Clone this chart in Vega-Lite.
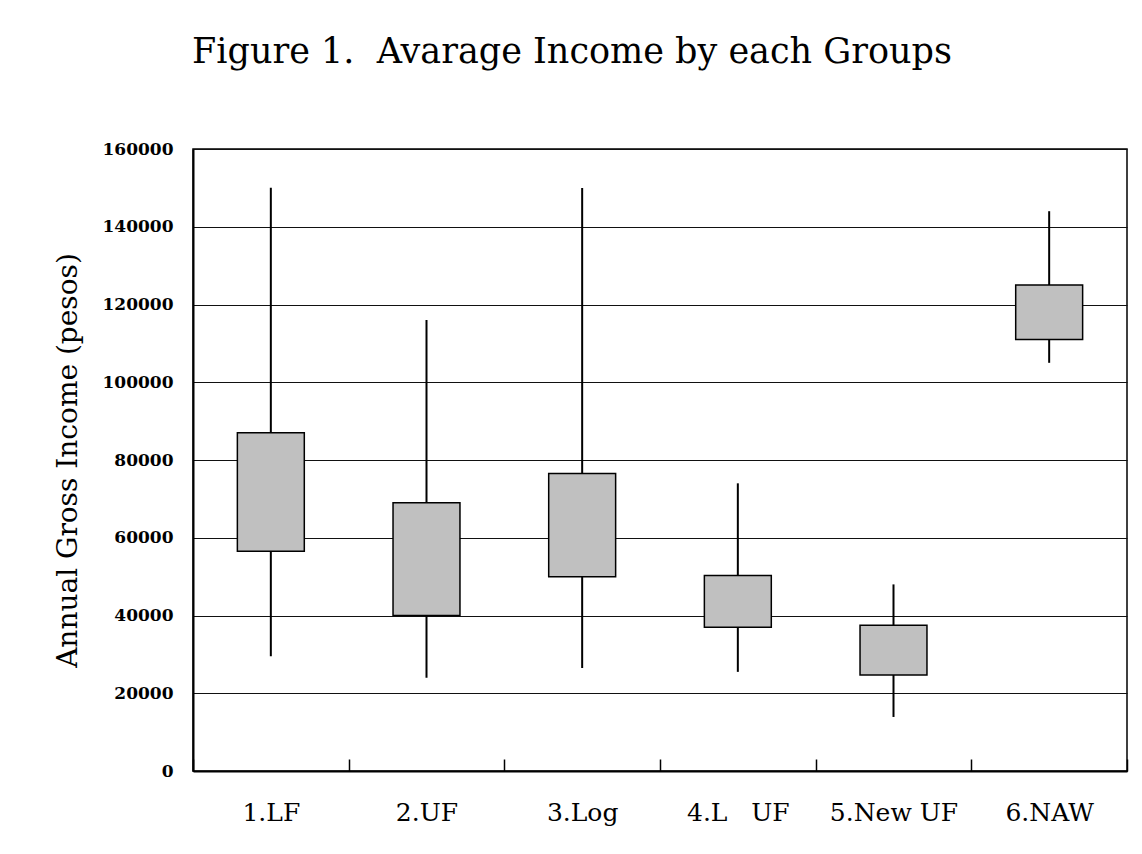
{
  "$schema": "https://vega.github.io/schema/vega-lite/v6.json",
  "width": 934,
  "height": 622,
  "autosize": {"type": "none"},
  "padding": {"left": 193, "top": 149, "right": 15, "bottom": 83},
  "background": "white",
  "title": {
    "text": "Figure 1.\u00a0\u00a0Avarage Income by each Groups",
    "font": "DejaVu Serif",
    "fontSize": 35,
    "fontWeight": "normal",
    "color": "black",
    "anchor": "middle",
    "frame": "group",
    "dx": -88,
    "offset": 42,
    "baseline": "alphabetic"
  },
  "data": {
    "values": [
      {"group": "1.LF", "low": 29500, "q1": 56500, "q3": 87000, "high": 150000},
      {"group": "2.UF", "low": 24000, "q1": 40000, "q3": 69000, "high": 116000},
      {"group": "3.Log", "low": 26500, "q1": 50000, "q3": 76500, "high": 150000},
      {"group": "4.L\u00a0\u00a0\u00a0UF", "low": 25500, "q1": 37000, "q3": 50300, "high": 74000},
      {"group": "5.New UF", "low": 13900, "q1": 24700, "q3": 37500, "high": 48000},
      {"group": "6.NAW", "low": 105000, "q1": 111000, "q3": 125000, "high": 144000}
    ]
  },
  "encoding": {
    "x": {
      "field": "group",
      "type": "nominal",
      "sort": null,
      "axis": {
        "title": null,
        "labelFont": "DejaVu Serif",
        "labelFontSize": 25,
        "labelFontWeight": "normal",
        "labelColor": "black",
        "labelAngle": 0,
        "labelPadding": 41,
        "tickBand": "extent",
        "tickSize": -12,
        "tickColor": "black",
        "tickWidth": 1.5,
        "domainColor": "black",
        "domainWidth": 2,
        "grid": false
      }
    }
  },
  "layer": [
    {
      "mark": {"type": "rule", "color": "black", "strokeWidth": 2},
      "encoding": {
        "y": {
          "field": "low",
          "type": "quantitative",
          "scale": {"domain": [0, 160000], "nice": false},
          "axis": {
            "title": "Annual Gross Income (pesos)",
            "titleFont": "DejaVu Serif",
            "titleFontSize": 28,
            "titleFontWeight": "normal",
            "titleColor": "black",
            "titleAngle": -90,
            "titleX": -125,
            "titleY": 311,
            "titleAlign": "center",
            "titleBaseline": "middle",
            "values": [0, 20000, 40000, 60000, 80000, 100000, 120000, 140000, 160000],
            "format": "d",
            "labelFont": "DejaVu Serif",
            "labelFontSize": 17,
            "labelFontWeight": "bold",
            "labelColor": "black",
            "labelPadding": 20,
            "ticks": false,
            "grid": true,
            "gridColor": "#111111",
            "gridWidth": 1.2,
            "domainColor": "black",
            "domainWidth": 2
          }
        },
        "y2": {"field": "high"}
      }
    },
    {
      "mark": {"type": "bar", "width": {"band": 0.43}, "fill": "#C0C0C0", "stroke": "black", "strokeWidth": 1.5},
      "encoding": {
        "y": {"field": "q1", "type": "quantitative"},
        "y2": {"field": "q3"}
      }
    }
  ],
  "config": {
    "view": {"stroke": "black", "strokeWidth": 1.5},
    "font": "DejaVu Serif"
  }
}
